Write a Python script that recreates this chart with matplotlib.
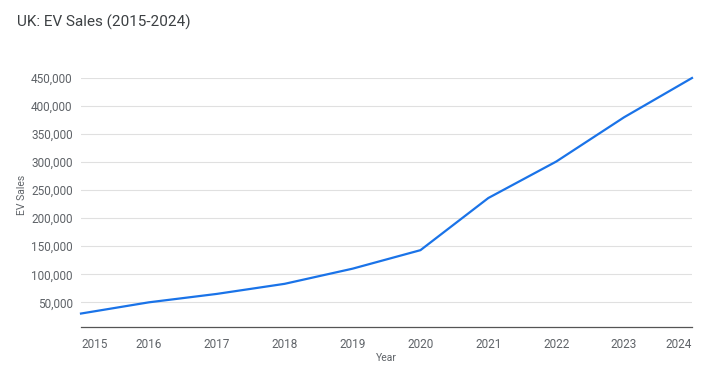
import matplotlib
matplotlib.use("Agg")
import matplotlib.pyplot as plt
from matplotlib.ticker import FuncFormatter

years = [2015, 2016, 2017, 2018, 2019, 2020, 2021, 2022, 2023, 2024]
sales = [30000, 50000, 65000, 83000, 110000, 143000, 236000, 301000, 380000, 450000]
y_ticks = [50000, 100000, 150000, 200000, 250000, 300000, 350000, 400000, 450000]
title = "UK: EV Sales (2015-2024)"

plt.rcParams['font.family'] = ['Roboto', 'DejaVu Sans']

W, H = 708, 380
fig = plt.figure(figsize=(W / 100, H / 100), dpi=100)
ax = fig.add_axes([81 / W, 1 - 327 / H, (692 - 81) / W, (327 - 78) / H])

ax.plot(years, sales, color='#1a73e8', linewidth=1.6, solid_joinstyle='round', clip_on=False, zorder=3)
ax.set_xlim(2015, 2024)
ax.set_ylim(6000, 450000)
ax.set_yticks(y_ticks)
ax.yaxis.set_major_formatter(FuncFormatter(lambda v, p: f"{int(v):,}"))
ax.set_xticks(years)
ax.set_xticklabels([str(y) for y in years])
labels = ax.get_xticklabels()
labels[0].set_horizontalalignment('left')
labels[-1].set_horizontalalignment('right')

ax.grid(axis='y', color='#e0e0e0', linewidth=0.8)
ax.set_axisbelow(True)
for s in ['top', 'right', 'left']:
    ax.spines[s].set_visible(False)
ax.spines['bottom'].set_color('#555555')
ax.spines['bottom'].set_linewidth(0.9)
ax.tick_params(axis='both', length=0, labelsize=8.5, colors='#5f6368')
ax.tick_params(axis='y', pad=6)
ax.tick_params(axis='x', pad=8)

fig.text(17 / W, 1 - 22 / H, title, fontsize=11, color='#3c4043', ha='left', va='center')
fig.text(22 / W, 1 - 195 / H, "EV Sales", rotation=90, fontsize=7.5, color='#5f6368', ha='center', va='center')
fig.text(386 / W, 1 - 358 / H, "Year", fontsize=7.5, color='#5f6368', ha='center', va='center')

fig.savefig('out.png', dpi=100)
